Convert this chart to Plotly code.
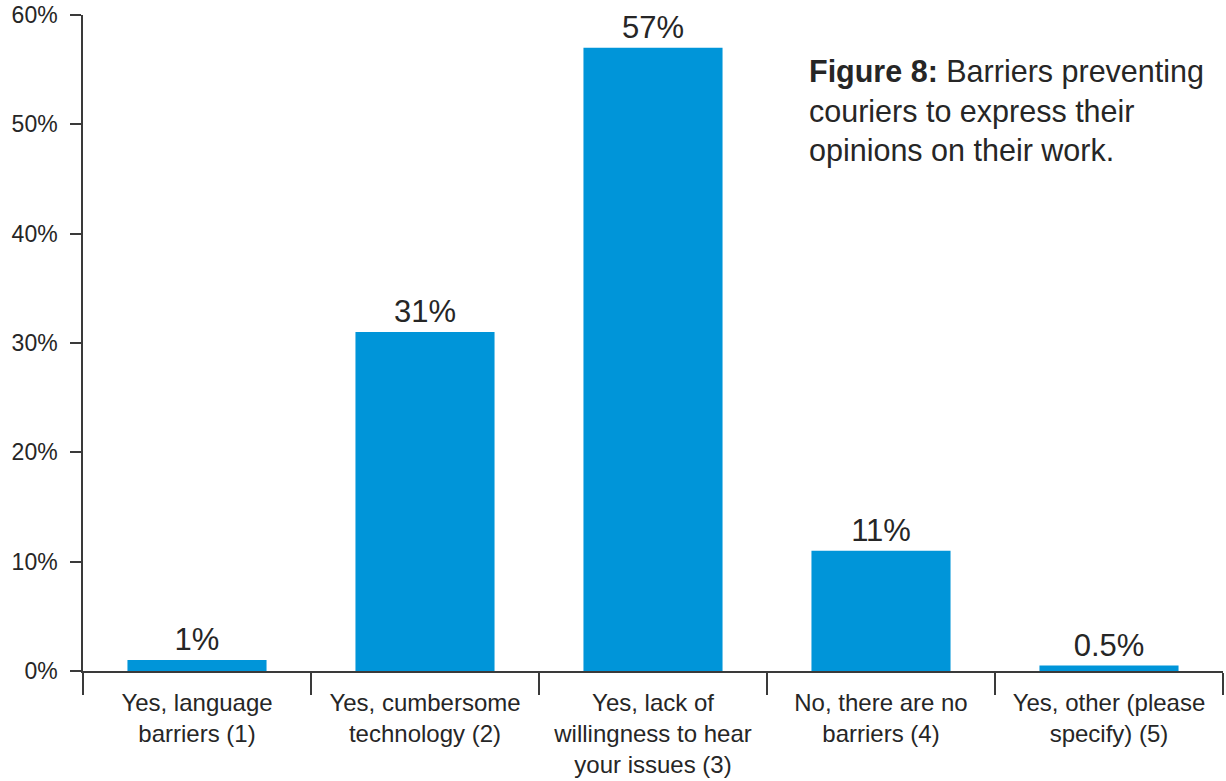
import plotly.graph_objects as go

# Survey answers and their shares (percent)
categories = [
    "Yes, language<br>barriers (1)",
    "Yes, cumbersome<br>technology (2)",
    "Yes, lack of<br>willingness to hear<br>your issues (3)",
    "No, there are no<br>barriers (4)",
    "Yes, other (please<br>specify) (5)",
]
shares = [1, 31, 57, 11, 0.5]
share_labels = ["1%", "31%", "57%", "11%", "0.5%"]
y_ticks = [0, 10, 20, 30, 40, 50, 60]

FONT = "Liberation Sans, Arial, Helvetica, sans-serif"
INK = "#262626"
BLUE = "#0095d9"

fig = go.Figure(
    go.Bar(
        x=categories,
        y=shares,
        text=share_labels,
        textposition="outside",
        textfont=dict(size=31, color=INK, family=FONT),
        marker=dict(color=BLUE, line=dict(width=0)),
        cliponaxis=False,
    )
)

fig.update_layout(
    width=1226,
    height=781,
    margin=dict(l=83, r=3, t=15, b=110),
    paper_bgcolor="white",
    plot_bgcolor="white",
    bargap=0.39,
    showlegend=False,
    font=dict(family=FONT, color=INK, size=23),
)

fig.update_xaxes(
    type="category",
    showline=True,
    linecolor="#3a3a3a",
    linewidth=1.5,
    ticks="outside",
    tickson="boundaries",
    ticklen=22,
    tickwidth=1.5,
    tickcolor="#3a3a3a",
    tickfont=dict(size=24, color=INK),
    ticklabelstandoff=9,
    showgrid=False,
    zeroline=False,
)

fig.update_yaxes(
    range=[0, 60],
    tickvals=y_ticks,
    ticktext=[f"{v}%" for v in y_ticks],
    showline=True,
    linecolor="#3a3a3a",
    linewidth=1.5,
    ticks="outside",
    ticklen=11,
    tickwidth=1.5,
    tickcolor="#3a3a3a",
    tickfont=dict(size=23, color=INK),
    ticklabelstandoff=8,
    showgrid=False,
    zeroline=False,
)

fig.add_annotation(
    xref="paper",
    yref="paper",
    x=0.635,
    y=0.943,
    xanchor="left",
    yanchor="top",
    align="left",
    showarrow=False,
    text="<b>Figure 8:</b> Barriers preventing<br>couriers to express their<br>opinions on their work.",
    font=dict(size=30.5, color=INK, family=FONT),
)

fig.write_html("out.html")
